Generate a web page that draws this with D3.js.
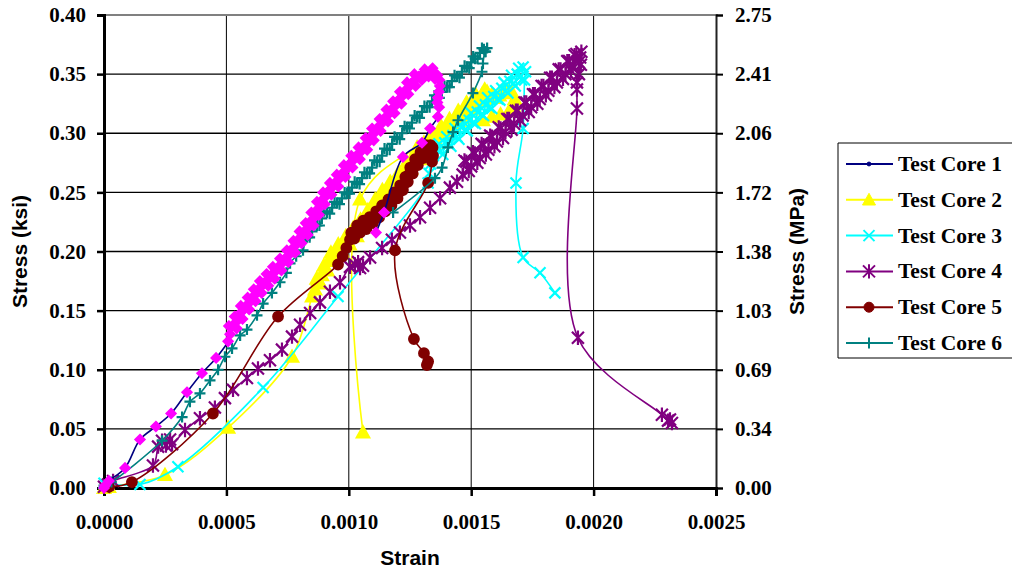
<!DOCTYPE html>
<html>
<head>
<meta charset="utf-8">
<script src="https://cdn.jsdelivr.net/npm/d3@7"></script>
<style>
    body { margin: 0; background: #fff; }
    svg { display: block; }
</style>
</head>
<body>
<div id="chart"></div>
<script>
// ---- data (strain, stress in ksi) ----
const xTicks = [0, 0.0005, 0.0010, 0.0015, 0.0020, 0.0025];
const yTicks = [0, 0.05, 0.10, 0.15, 0.20, 0.25, 0.30, 0.35, 0.40];
const mpaLabels = ["0.00", "0.34", "0.69", "1.03", "1.38", "1.72", "2.06", "2.41", "2.75"];
const seriesNames = ["Test Core 1", "Test Core 2", "Test Core 3", "Test Core 4", "Test Core 5", "Test Core 6"];

const core1 = [
    [0, 0], [0.000004, 0.002], [0.00002, 0.006], [0.000086, 0.017], [0.000147, 0.041], [0.000212, 0.052],
    [0.000274, 0.063], [0.000339, 0.081], [0.0004, 0.097], [0.000458, 0.110], [0.000507, 0.124],
    [0.000515, 0.130], [0.00051, 0.137], [0.000525, 0.137], [0.000542, 0.135], [0.000538, 0.140], [0.000534, 0.145],
    [0.00055, 0.144], [0.000566, 0.143], [0.000562, 0.149], [0.000559, 0.154], [0.000575, 0.152], [0.000593, 0.151],
    [0.00059, 0.156], [0.000587, 0.161], [0.000603, 0.160], [0.000619, 0.158], [0.000615, 0.163], [0.000612, 0.168],
    [0.000628, 0.166], [0.000644, 0.165], [0.00064, 0.170], [0.000637, 0.175], [0.000654, 0.173], [0.000671, 0.171],
    [0.000668, 0.176], [0.000664, 0.181], [0.00068, 0.179], [0.000697, 0.177], [0.000694, 0.182], [0.00069, 0.187],
    [0.000707, 0.185], [0.000725, 0.184], [0.000722, 0.189], [0.000719, 0.194], [0.000736, 0.193], [0.000753, 0.191],
    [0.00075, 0.196], [0.000747, 0.201], [0.000764, 0.200], [0.000781, 0.199], [0.000777, 0.204], [0.000774, 0.209],
    [0.00079, 0.208], [0.000807, 0.207], [0.000803, 0.212], [0.000799, 0.217], [0.000815, 0.215], [0.000832, 0.214],
    [0.000828, 0.219], [0.000824, 0.224], [0.00084, 0.223], [0.000856, 0.222], [0.000851, 0.227], [0.000847, 0.233],
    [0.000862, 0.232], [0.000878, 0.231], [0.000874, 0.236], [0.00087, 0.242], [0.000886, 0.241], [0.000902, 0.240],
    [0.000898, 0.245], [0.000895, 0.250], [0.000912, 0.249], [0.000929, 0.248], [0.000926, 0.253], [0.000923, 0.258],
    [0.00094, 0.257], [0.000957, 0.255], [0.000954, 0.260], [0.000951, 0.265], [0.000968, 0.264], [0.000986, 0.263],
    [0.000983, 0.268], [0.00098, 0.273], [0.000997, 0.272], [0.001015, 0.271], [0.001012, 0.276], [0.00101, 0.281],
    [0.001027, 0.280], [0.001045, 0.278], [0.001042, 0.283], [0.00104, 0.288], [0.001058, 0.287], [0.001075, 0.286],
    [0.001072, 0.291], [0.001069, 0.296], [0.001085, 0.295], [0.001102, 0.294], [0.001098, 0.299], [0.001095, 0.304],
    [0.001112, 0.303], [0.00113, 0.302], [0.001128, 0.307], [0.001126, 0.312], [0.001143, 0.311], [0.00116, 0.310],
    [0.001157, 0.315], [0.001154, 0.320], [0.00117, 0.319], [0.001187, 0.317], [0.001184, 0.322], [0.001181, 0.327],
    [0.001198, 0.326], [0.001215, 0.325], [0.001212, 0.330], [0.001209, 0.335], [0.001226, 0.334], [0.001243, 0.333],
    [0.00124, 0.338], [0.001238, 0.343], [0.001255, 0.342], [0.001273, 0.340], [0.00127, 0.345], [0.001268, 0.350],
    [0.001286, 0.348], [0.001298, 0.345], [0.001302, 0.350], [0.00131, 0.354], [0.001318, 0.351], [0.001326, 0.348],
    [0.001334, 0.352], [0.001342, 0.355], [0.00135, 0.351], [0.001352, 0.346], [0.001362, 0.349], [0.00137, 0.345],
    [0.001372, 0.340], [0.001368, 0.335], [0.001364, 0.330], [0.001362, 0.326], [0.001369, 0.322], [0.001364, 0.314],
    [0.001332, 0.304], [0.001299, 0.292], [0.001221, 0.280], [0.001144, 0.233], [0.001111, 0.216]
];
const core2 = [
    [0, 0], [0.00002, 0.001], [0.000249, 0.011], [0.000507, 0.051], [0.000768, 0.111], [0.00085, 0.162],
    [0.000862, 0.168], [0.000869, 0.177], [0.000875, 0.176], [0.000883, 0.173], [0.00089, 0.180], [0.000898, 0.188],
    [0.000905, 0.186], [0.000912, 0.184], [0.000918, 0.192], [0.000927, 0.199], [0.000935, 0.195], [0.000943, 0.192],
    [0.00095, 0.199], [0.000957, 0.206], [0.000964, 0.203], [0.000972, 0.200], [0.00098, 0.206], [0.000988, 0.213],
    [0.000995, 0.209], [0.001003, 0.206], [0.00101, 0.213], [0.001018, 0.220], [0.001025, 0.216], [0.001033, 0.213],
    [0.00104, 0.220], [0.001048, 0.227], [0.001055, 0.223], [0.001063, 0.221], [0.00107, 0.228], [0.001078, 0.235],
    [0.001085, 0.232], [0.001093, 0.230], [0.0011, 0.237], [0.001108, 0.244], [0.001115, 0.240], [0.001122, 0.238],
    [0.001128, 0.245], [0.001137, 0.252], [0.001145, 0.249], [0.001153, 0.246], [0.00116, 0.252], [0.001169, 0.259],
    [0.001178, 0.256], [0.001187, 0.253], [0.001195, 0.260], [0.001204, 0.267], [0.001212, 0.264], [0.00122, 0.262],
    [0.001228, 0.269], [0.001237, 0.276], [0.001245, 0.273], [0.001254, 0.270], [0.001262, 0.277], [0.001271, 0.284],
    [0.00128, 0.281], [0.001289, 0.278], [0.001298, 0.285], [0.001307, 0.292], [0.001315, 0.288], [0.001324, 0.285],
    [0.001332, 0.292], [0.001341, 0.299], [0.00135, 0.295], [0.001359, 0.292], [0.001368, 0.299], [0.001377, 0.306],
    [0.001385, 0.302], [0.001394, 0.299], [0.001402, 0.305], [0.001411, 0.312], [0.00142, 0.309], [0.001429, 0.306],
    [0.001438, 0.312], [0.001447, 0.319], [0.001455, 0.316], [0.001464, 0.313], [0.001472, 0.319], [0.001481, 0.326],
    [0.00149, 0.323], [0.001499, 0.320], [0.001508, 0.326], [0.001517, 0.333], [0.001525, 0.330], [0.001535, 0.327],
    [0.001545, 0.333], [0.001555, 0.337], [0.001565, 0.335], [0.001575, 0.329], [0.001585, 0.333], [0.0016, 0.330],
    [0.001615, 0.332], [0.001632, 0.335], [0.00165, 0.336], [0.001668, 0.334], [0.001678, 0.329], [0.001672, 0.323],
    [0.001655, 0.319], [0.00162, 0.316], [0.001585, 0.314], [0.001548, 0.311], [0.001279, 0.288], [0.001046, 0.244],
    [0.001058, 0.047]
];
const core3 = [
    [0, 0.004], [0.000147, 0.003], [0.000302, 0.018], [0.00065, 0.085], [0.000956, 0.162],
    [0.001324, 0.258], [0.001328, 0.266], [0.001334, 0.274], [0.001345, 0.281], [0.00136, 0.286], [0.001368, 0.291],
    [0.001376, 0.285], [0.001384, 0.282], [0.001392, 0.292], [0.0014, 0.297], [0.001408, 0.291], [0.001417, 0.289],
    [0.001425, 0.298], [0.001434, 0.304], [0.001442, 0.297], [0.00145, 0.295], [0.001458, 0.305], [0.001467, 0.310],
    [0.001475, 0.303], [0.001484, 0.302], [0.001492, 0.311], [0.0015, 0.317], [0.001508, 0.309], [0.001517, 0.308],
    [0.001525, 0.318], [0.001534, 0.323], [0.001542, 0.316], [0.00155, 0.315], [0.001558, 0.324], [0.001567, 0.330],
    [0.001575, 0.322], [0.001584, 0.321], [0.001592, 0.331], [0.0016, 0.336], [0.001608, 0.329], [0.001617, 0.328],
    [0.001625, 0.338], [0.001634, 0.343], [0.001642, 0.336], [0.00165, 0.334], [0.001658, 0.344], [0.001665, 0.349],
    [0.001672, 0.342], [0.00168, 0.340], [0.001688, 0.350], [0.001694, 0.355], [0.0017, 0.348], [0.001706, 0.345],
    [0.001712, 0.356], [0.001722, 0.352], [0.001718, 0.345],
    [0.001712, 0.304], [0.001683, 0.258], [0.001712, 0.195], [0.001781, 0.182], [0.001842, 0.165]
];
const core4 = [
    [0, 0.001], [0.000016, 0.003], [0.000037, 0.006], [0.0002, 0.019], [0.000221, 0.035], [0.000237, 0.040],
    [0.000253, 0.036], [0.00027, 0.041], [0.000278, 0.037], [0.000331, 0.049], [0.000392, 0.059], [0.000453, 0.068],
    [0.000494, 0.076], [0.000527, 0.083], [0.000584, 0.093], [0.000629, 0.101], [0.000678, 0.108], [0.000727, 0.117],
    [0.000768, 0.128], [0.000801, 0.138], [0.000842, 0.148], [0.000882, 0.157], [0.000923, 0.166], [0.000964, 0.174],
    [0.001005, 0.187], [0.001025, 0.189], [0.001046, 0.186], [0.001038, 0.191], [0.001058, 0.188], [0.001087, 0.195],
    [0.001136, 0.203], [0.001176, 0.210], [0.001209, 0.216], [0.00125, 0.222], [0.001291, 0.229], [0.001332, 0.237],
    [0.001373, 0.245], [0.001413, 0.254], [0.001442, 0.259],
    [0.001465, 0.265], [0.0014725, 0.277], [0.00148, 0.276], [0.00149, 0.268], [0.0015, 0.272], [0.0015075, 0.284],
    [0.001515, 0.283], [0.001525, 0.275], [0.001535, 0.279], [0.0015425, 0.291], [0.00155, 0.290], [0.00156, 0.282],
    [0.00157, 0.286], [0.0015775, 0.298], [0.001585, 0.297], [0.001595, 0.289], [0.001605, 0.293], [0.0016125, 0.305],
    [0.00162, 0.304], [0.00163, 0.296], [0.00164, 0.301], [0.0016475, 0.312], [0.001655, 0.312], [0.001665, 0.303],
    [0.001675, 0.308], [0.0016825, 0.319], [0.00169, 0.319], [0.0017, 0.311], [0.00171, 0.315], [0.0017175, 0.326],
    [0.001725, 0.326], [0.001735, 0.318], [0.001745, 0.322], [0.0017525, 0.333], [0.00176, 0.333], [0.00177, 0.325],
    [0.00178, 0.329], [0.0017875, 0.340], [0.001795, 0.340], [0.001805, 0.332], [0.001815, 0.336], [0.0018225, 0.347],
    [0.00183, 0.347], [0.00184, 0.339], [0.00185, 0.343], [0.0018575, 0.354], [0.001865, 0.354], [0.001875, 0.346],
    [0.001885, 0.350], [0.0018925, 0.361], [0.0019, 0.361], [0.0019075, 0.353], [0.001915, 0.357], [0.0019225, 0.366],
    [0.00193, 0.367], [0.00194, 0.360], [0.001945, 0.364], [0.00195, 0.369],
    [0.001948, 0.358], [0.00194, 0.350], [0.001932, 0.343], [0.001932, 0.337], [0.001932, 0.321],
    [0.001936, 0.127], [0.002279, 0.062], [0.002304, 0.057], [0.00232, 0.055], [0.002312, 0.058]
];
const core5 = [
    [0.00002, 0.001], [0.000114, 0.005], [0.000445, 0.063], [0.000711, 0.145], [0.000956, 0.189],
    [0.000975, 0.196], [0.00099, 0.203], [0.001005, 0.210], [0.00101, 0.216], [0.001015, 0.214], [0.001022, 0.211],
    [0.001028, 0.216], [0.001034, 0.222], [0.00104, 0.219], [0.001046, 0.216], [0.001052, 0.221], [0.001059, 0.226],
    [0.001065, 0.222], [0.001072, 0.219], [0.001078, 0.224], [0.001085, 0.229], [0.001092, 0.226], [0.001099, 0.224],
    [0.001105, 0.229], [0.001112, 0.234], [0.001118, 0.231], [0.001124, 0.229], [0.00113, 0.234], [0.001136, 0.239],
    [0.001142, 0.236], [0.001149, 0.234], [0.001155, 0.239], [0.001162, 0.244], [0.001168, 0.241], [0.001174, 0.239],
    [0.00118, 0.244], [0.001186, 0.250], [0.001192, 0.247], [0.001199, 0.245], [0.001205, 0.250], [0.00121, 0.256],
    [0.001215, 0.254], [0.001221, 0.252], [0.001226, 0.257], [0.001231, 0.263], [0.001236, 0.261], [0.001241, 0.259],
    [0.001246, 0.265], [0.001251, 0.271], [0.001256, 0.268], [0.001261, 0.266], [0.001266, 0.272], [0.001271, 0.278],
    [0.001276, 0.275], [0.001282, 0.273], [0.001287, 0.278], [0.001293, 0.284], [0.001298, 0.281], [0.001304, 0.279],
    [0.00131, 0.284], [0.001316, 0.290], [0.001322, 0.287], [0.001328, 0.285], [0.001334, 0.290], [0.001342, 0.288],
    [0.001344, 0.281], [0.00134, 0.276], [0.001324, 0.258],
    [0.001189, 0.201], [0.001266, 0.126], [0.001307, 0.114], [0.001319, 0.104], [0.001324, 0.107]
];
const core6 = [
    [0, 0.002], [0.00003, 0.005], [0.000237, 0.040], [0.000319, 0.060], [0.000351, 0.073], [0.000392, 0.080],
    [0.000433, 0.091], [0.000466, 0.100], [0.000494, 0.111], [0.000523, 0.118], [0.000556, 0.129], [0.000584, 0.134],
    [0.000625, 0.146], [0.00065, 0.156], [0.000686, 0.165], [0.000719, 0.174], [0.000745, 0.182], [0.00076, 0.190],
    [0.000785, 0.196], [0.000813, 0.201], [0.000821, 0.210], [0.000829, 0.212], [0.00084, 0.212], [0.00085, 0.217],
    [0.00086, 0.223], [0.00087, 0.222], [0.00088, 0.222], [0.00089, 0.228], [0.0009, 0.234], [0.000911, 0.233],
    [0.000922, 0.232], [0.000932, 0.237], [0.000942, 0.242], [0.000952, 0.241], [0.000962, 0.240], [0.000972, 0.245],
    [0.000983, 0.250], [0.000993, 0.249], [0.001003, 0.249], [0.001013, 0.254], [0.001024, 0.259], [0.001034, 0.258],
    [0.001044, 0.257], [0.001054, 0.262], [0.001064, 0.267], [0.001074, 0.266], [0.001085, 0.266], [0.001095, 0.271],
    [0.001105, 0.277], [0.001115, 0.276], [0.001126, 0.276], [0.001136, 0.281], [0.001146, 0.287], [0.001156, 0.286],
    [0.001167, 0.286], [0.001177, 0.291], [0.001187, 0.297], [0.001197, 0.296], [0.001208, 0.295], [0.001218, 0.300],
    [0.001228, 0.306], [0.001238, 0.305], [0.001248, 0.304], [0.001258, 0.309], [0.001269, 0.315], [0.001279, 0.314],
    [0.001289, 0.313], [0.001299, 0.318], [0.001309, 0.323], [0.001319, 0.322], [0.00133, 0.322], [0.00134, 0.327],
    [0.00135, 0.332], [0.00136, 0.331], [0.00137, 0.330], [0.00138, 0.335], [0.001391, 0.340], [0.001401, 0.339],
    [0.001411, 0.339], [0.001421, 0.344], [0.001432, 0.349], [0.001442, 0.348], [0.001452, 0.347], [0.001462, 0.352],
    [0.001473, 0.357], [0.001483, 0.356], [0.001492, 0.355], [0.0015, 0.360], [0.001508, 0.365], [0.001516, 0.363],
    [0.001526, 0.363], [0.001536, 0.368], [0.001544, 0.372], [0.001552, 0.371], [0.001559, 0.369], [0.001565, 0.372],
    [0.001556, 0.369], [0.001548, 0.359], [0.001544, 0.352], [0.001507, 0.334], [0.001446, 0.311], [0.001426, 0.301],
    [0.001405, 0.288], [0.001381, 0.271], [0.001352, 0.262], [0.001181, 0.233]
];

// series look, Excel-like
const seriesStyle = [
    { data: core1, line: "#000080", mark: "diamond", fill: "#ff00ff", size: 4.8, legendMark: "dot", legendFill: "#000080" },
    { data: core2, line: "#ffff00", mark: "triangle", fill: "#ffff00", size: 6.5 },
    { data: core3, line: "#00ffff", mark: "x", fill: "#00ffff", size: 5.5 },
    { data: core4, line: "#800080", mark: "star", fill: "#800080", size: 6 },
    { data: core5, line: "#800000", mark: "circle", fill: "#800000", size: 5 },
    { data: core6, line: "#008080", mark: "plus", fill: "#008080", size: 5.5 }
];
const drawOrder = [1, 2, 3, 4, 5, 0];

function markerPath(type, s) {
    switch (type) {
        case "diamond": return `M0,${-s}L${s},0L0,${s}L${-s},0Z`;
        case "triangle": return `M0,${-s}L${s},${s * 0.8}L${-s},${s * 0.8}Z`;
        case "x": return `M${-s},${-s}L${s},${s}M${-s},${s}L${s},${-s}`;
        case "star": return `M${-s},${-s}L${s},${s}M${-s},${s}L${s},${-s}M0,${-s * 1.2}L0,${s * 1.2}`;
        case "plus": return `M${-s},0L${s},0M0,${-s}L0,${s}`;
        case "dot": return d3.symbol(d3.symbolCircle, 12)();
        default: return d3.symbol(d3.symbolCircle, Math.PI * s * s)();
    }
}

const width = 1012, height = 571;
const plot = { left: 104, right: 716, top: 15, bottom: 488 };

const svg = d3.select("#chart").append("svg")
    .attr("width", width)
    .attr("height", height);

const x = d3.scaleLinear().domain([0, 0.0025]).range([plot.left, plot.right]);
const y = d3.scaleLinear().domain([0, 0.40]).range([plot.bottom, plot.top]);

// gridlines
svg.append("g").selectAll("line")
    .data(yTicks.slice(1, -1))
    .join("line")
    .attr("x1", plot.left).attr("x2", plot.right)
    .attr("y1", d => y(d)).attr("y2", d => y(d))
    .attr("stroke", "#000").attr("stroke-width", 1.4);
svg.append("g").selectAll("line")
    .data(xTicks.slice(1, -1))
    .join("line")
    .attr("x1", d => x(d)).attr("x2", d => x(d))
    .attr("y1", plot.top).attr("y2", plot.bottom)
    .attr("stroke", "#000").attr("stroke-width", 1);
svg.append("line")
    .attr("x1", plot.left).attr("x2", plot.right + 2)
    .attr("y1", plot.top).attr("y2", plot.top)
    .attr("stroke", "#808080").attr("stroke-width", 2);

const tickFont = (g, size) => g.selectAll("text")
    .attr("font-family", "'Liberation Serif', 'Times New Roman', serif")
    .attr("font-weight", "bold")
    .attr("font-size", size)
    .attr("fill", "#000");

// axes
const gRight = svg.append("g")
    .attr("transform", `translate(${plot.right},0)`)
    .call(d3.axisRight(y).tickValues(yTicks).tickSize(7).tickPadding(12)
        .tickFormat((d, i) => mpaLabels[i]));
gRight.select(".domain").attr("stroke", "#222").attr("stroke-width", 2);
gRight.selectAll(".tick line").attr("stroke-width", 2);
tickFont(gRight, 21);

const gLeft = svg.append("g")
    .attr("transform", `translate(${plot.left},0)`)
    .call(d3.axisLeft(y).tickValues(yTicks).tickSize(7).tickPadding(11).tickFormat(d3.format(".2f")));
gLeft.select(".domain").attr("stroke-width", 3);
gLeft.selectAll(".tick line").attr("stroke-width", 2.5);
tickFont(gLeft, 21);

const gBottom = svg.append("g")
    .attr("transform", `translate(0,${plot.bottom})`)
    .call(d3.axisBottom(x).tickValues(xTicks).tickSize(8).tickPadding(18).tickFormat(d3.format(".4f")));
gBottom.select(".domain").attr("stroke-width", 3);
gBottom.selectAll(".tick line").attr("stroke-width", 2.5);
tickFont(gBottom, 21);

// axis titles
const titleFont = sel => sel
    .attr("font-family", "'Liberation Sans', Arial, sans-serif")
    .attr("font-weight", "bold")
    .attr("font-size", 21)
    .attr("text-anchor", "middle");
svg.append("text").call(titleFont)
    .attr("x", (plot.left + plot.right) / 2).attr("y", 565)
    .text("Strain");
svg.append("text").call(titleFont)
    .attr("transform", `translate(27,${(plot.top + plot.bottom) / 2}) rotate(-90)`)
    .text("Stress (ksi)");
svg.append("text").call(titleFont)
    .attr("transform", `translate(804,${(plot.top + plot.bottom) / 2}) rotate(-90)`)
    .text("Stress (MPa)");

// series
const line = d3.line()
    .x(d => x(d[0]))
    .y(d => y(d[1]))
    .curve(d3.curveCatmullRom.alpha(0.5));

const gSeries = svg.append("g");
drawOrder.forEach(i => {
    const s = seriesStyle[i];
    const g = gSeries.append("g");
    g.append("path")
        .datum(s.data)
        .attr("d", line)
        .attr("fill", "none")
        .attr("stroke", s.line)
        .attr("stroke-width", 1.6);
    const open = s.mark === "x" || s.mark === "star" || s.mark === "plus";
    g.selectAll("path.mk")
        .data(s.data)
        .join("path")
        .attr("class", "mk")
        .attr("transform", d => `translate(${x(d[0])},${y(d[1])})`)
        .attr("d", markerPath(s.mark, s.size))
        .attr("fill", open ? "none" : s.fill)
        .attr("stroke", s.fill)
        .attr("stroke-width", open ? 2.2 : 1.8);
});

// legend
const legend = svg.append("g");
legend.append("path")
    .attr("d", "M1014,143H838V358H1014")
    .attr("fill", "#fff")
    .attr("stroke", "#000")
    .attr("stroke-width", 1);
seriesNames.forEach((name, i) => {
    const s = seriesStyle[i];
    const yy = 164 + i * 35.8;
    const row = legend.append("g").attr("transform", `translate(0,${yy})`);
    row.append("line")
        .attr("x1", 846).attr("x2", 893)
        .attr("stroke", s.line).attr("stroke-width", 2);
    const mk = s.legendMark || s.mark;
    const open = mk === "x" || mk === "star" || mk === "plus";
    row.append("path")
        .attr("transform", "translate(869,0)")
        .attr("d", markerPath(mk, s.size))
        .attr("fill", open ? "none" : (s.legendFill || s.fill))
        .attr("stroke", s.legendFill || s.fill)
        .attr("stroke-width", open ? 2 : 1);
    row.append("text")
        .attr("x", 898).attr("y", 7)
        .attr("font-family", "'Liberation Serif', 'Times New Roman', serif")
        .attr("font-weight", "bold")
        .attr("font-size", 21.5)
        .text(name);
});
</script>
</body>
</html>
